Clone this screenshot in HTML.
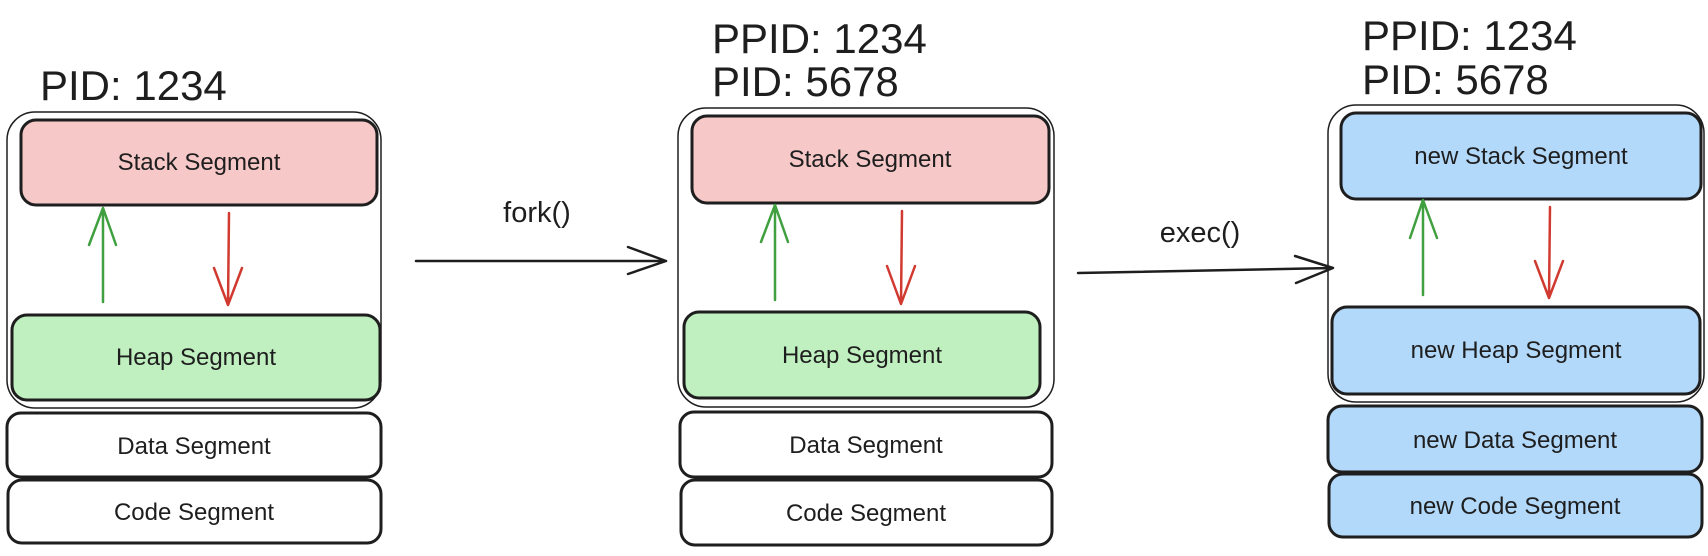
<!DOCTYPE html>
<html><head><style>body{margin:0;background:#fff}svg{display:block}</style></head><body>
<svg width="1708" height="556" viewBox="0 0 1708 556" xmlns="http://www.w3.org/2000/svg" font-family="Liberation Sans, sans-serif" fill="none">
<g fill="#1e1e1e" stroke="none" font-size="42">
<text x="40" y="100">PID: 1234</text>
<text x="712" y="53">PPID: 1234</text>
<text x="712" y="96">PID: 5678</text>
<text x="1362" y="50">PPID: 1234</text>
<text x="1362" y="94">PID: 5678</text>
<text x="537" y="222" font-size="29" text-anchor="middle">fork()</text>
<text x="1200" y="242" font-size="29" text-anchor="middle">exec()</text>
</g>
<g stroke="#1e1e1e" stroke-width="1.5">
<rect x="7" y="112" width="374" height="296" rx="28"/>
<rect x="678" y="108" width="376" height="299" rx="28"/>
<rect x="1328" y="105" width="376" height="297" rx="28"/>
</g>
<g stroke="#1e1e1e" stroke-width="3">
<rect x="21" y="120" width="356" height="85" rx="15" fill="#f7c8c8"/>
<rect x="12" y="315" width="368" height="85" rx="15" fill="#c0efc0"/>
<rect x="7" y="413" width="374" height="64" rx="14" fill="#fff"/>
<rect x="8" y="480" width="373" height="63" rx="14" fill="#fff"/>
<rect x="692" y="116" width="357" height="87" rx="15" fill="#f7c8c8"/>
<rect x="684" y="312" width="356" height="86" rx="15" fill="#c0efc0"/>
<rect x="680" y="412" width="372" height="65" rx="14" fill="#fff"/>
<rect x="681" y="480" width="371" height="65" rx="14" fill="#fff"/>
<rect x="1341" y="113" width="360" height="86" rx="15" fill="#b2d8fa"/>
<rect x="1332" y="307" width="368" height="87" rx="15" fill="#b2d8fa"/>
<rect x="1328" y="406" width="374" height="66" rx="14" fill="#b2d8fa"/>
<rect x="1329" y="474" width="373" height="63" rx="14" fill="#b2d8fa"/>
</g>
<g fill="#1e1e1e" stroke="none" font-size="24" text-anchor="middle">
<text x="199" y="170">Stack Segment</text>
<text x="196" y="365">Heap Segment</text>
<text x="194" y="454">Data Segment</text>
<text x="194" y="520">Code Segment</text>
<text x="870" y="167">Stack Segment</text>
<text x="862" y="363">Heap Segment</text>
<text x="866" y="453">Data Segment</text>
<text x="866" y="521">Code Segment</text>
<text x="1521" y="164">new Stack Segment</text>
<text x="1516" y="358">new Heap Segment</text>
<text x="1515" y="448">new Data Segment</text>
<text x="1515" y="514">new Code Segment</text>
</g>
<g stroke-width="2.5" stroke-linecap="round" stroke-linejoin="round">
<path d="M103 302V208M89 245L103 208L116 245" stroke="#40a040"/>
<path d="M229 213L228 305M214 268L228 305L242 268" stroke="#d03a30"/>
<path d="M775 300V205M761 242L775 205L788 242" stroke="#40a040"/>
<path d="M902 211L901 304M887 266L901 304L915 266" stroke="#d03a30"/>
<path d="M1423 295V200M1410 238L1423 200L1437 238" stroke="#40a040"/>
<path d="M1550 207L1549 298M1535 261L1549 298L1563 261" stroke="#d03a30"/>
<path d="M416 261H666M628 247L666 261L628 274" stroke="#1e1e1e"/>
<path d="M1078 273L1333 268M1295 256L1333 268L1296 283" stroke="#1e1e1e"/>
</g>
</svg>
</body></html>
